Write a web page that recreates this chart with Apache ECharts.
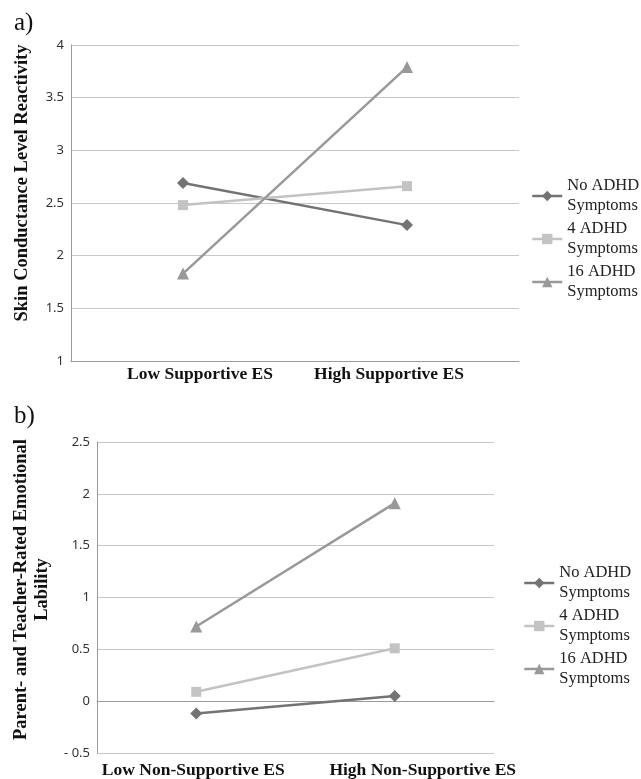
<!DOCTYPE html>
<html lang="en">
<head>
    <meta charset="UTF-8">
    <title>ADHD interaction plots</title>
    <style>
        html, body { margin: 0; padding: 0; background: #fff; }
        #chart { width: 641px; height: 779px; }
    </style>
</head>
<body>
    <div id="chart"></div>
    <script src="https://cdn.jsdelivr.net/npm/echarts@6/dist/echarts.min.js"></script>
    <script type="text/javascript">

        var seriesNames = ['No ADHD Symptoms', '4 ADHD Symptoms', '16 ADHD Symptoms'];

        // panel a
        var catsA = ['Low Supportive ES', 'High Supportive ES'];
        var noAdhdA = [2.69, 2.29];
        var fourAdhdA = [2.48, 2.66];
        var sixteenAdhdA = [1.83, 3.79];

        // panel b
        var catsB = ['Low Non-Supportive ES', 'High Non-Supportive ES'];
        var noAdhdB = [-0.12, 0.05];
        var fourAdhdB = [0.09, 0.51];
        var sixteenAdhdB = [0.72, 1.91];

        var colors = ['#737373', '#c3c3c3', '#999999'];
        var symbols = ['diamond', 'rect', 'triangle'];
        var serif = 'Liberation Serif';

        var chart = echarts.init(document.getElementById('chart'));

        function makeSeries(data, idx, axisIdx) {
            return {
                name: seriesNames[idx],
                type: 'line',
                xAxisIndex: axisIdx,
                yAxisIndex: axisIdx,
                data: data,
                symbol: symbols[idx],
                symbolSize: idx == 1 ? 10 : 12,
                showAllSymbol: true,
                color: colors[idx],
                lineStyle: { width: 2.5, color: colors[idx] },
                itemStyle: { color: colors[idx] },
                animation: false
            };
        }

        function legendBox(left, top) {
            return {
                orient: 'vertical',
                left: left,
                top: top,
                padding: 0,
                itemWidth: 30,
                itemHeight: 13,
                itemGap: -17,
                data: seriesNames,
                lineStyle: { width: 2.5 },
                formatter: function (name) {
                    var parts = name.split(' ');
                    return parts.slice(0, 2).join(' ') + '\n' + parts[2];
                },
                textStyle: {
                    fontFamily: serif,
                    fontSize: 16.5,
                    lineHeight: 20,
                    color: '#222',
                    padding: [20, 0, 0, 0]
                }
            };
        }

        function yAxis(gridIdx, min, max, name, nameGap, lift) {
            return {
                type: 'value',
                gridIndex: gridIdx,
                min: min,
                max: max,
                interval: 0.5,
                name: name,
                nameLocation: 'middle',
                nameGap: nameGap,
                nameTextStyle: {
                    fontFamily: serif,
                    fontWeight: 'bold',
                    fontSize: 18.5,
                    lineHeight: 21,
                    color: '#111',
                    padding: [0, 0, 0, lift]
                },
                axisLine: { show: true, lineStyle: { color: '#9a9a9a', width: 1 } },
                axisTick: { show: false },
                axisLabel: {
                    margin: 7,
                    fontFamily: 'Noto Sans',
                    fontSize: 13,
                    color: '#333',
                    formatter: function (v) {
                        return v < 0 ? '- ' + Math.abs(v) : String(v);
                    }
                },
                splitLine: { lineStyle: { color: '#c8c8c8', width: 1 } }
            };
        }

        // shifts: horizontal nudge of each category label (px)
        function xAxis(gridIdx, cats, shifts, margin) {
            var lblFont = { fontFamily: serif, fontWeight: 'bold', fontSize: 17.5, color: '#111' };
            var rich = {};
            shifts.forEach(function (s, i) {
                rich['s' + i] = Object.assign({
                    padding: s >= 0 ? [0, 0, 0, 2 * s] : [0, -2 * s, 0, 0]
                }, lblFont);
            });
            return {
                type: 'category',
                gridIndex: gridIdx,
                data: cats,
                boundaryGap: true,
                axisLine: { lineStyle: { color: '#9a9a9a', width: 1 } },
                axisTick: { show: false },
                axisLabel: Object.assign({
                    interval: 0,
                    margin: margin,
                    formatter: function (v, i) { return '{s' + i + '|' + v + '}'; },
                    rich: rich
                }, lblFont)
            };
        }

        var option = {
            backgroundColor: '#fff',
            animation: false,
            graphic: [
                { type: 'text', left: 14, top: 11, style: { text: 'a)', fontFamily: serif, fontSize: 25, fill: '#111' } },
                { type: 'text', left: 14, top: 404, style: { text: 'b)', fontFamily: serif, fontSize: 25, fill: '#111' } }
            ],
            legend: [legendBox(531, 166), legendBox(523, 553)],
            grid: [
                { left: 71, top: 45, right: 122, bottom: 418 },
                { left: 97, top: 442, right: 147, bottom: 22 }
            ],
            xAxis: [xAxis(0, catsA, [17, -18], 4), xAxis(1, catsB, [-3, 28], 8)],
            yAxis: [
                yAxis(0, 1, 4, 'Skin Conductance Level Reactivity', 38, 40),
                yAxis(1, -0.5, 2.5, 'Parent- and Teacher-Rated Emotional\nLability', 41, 16)
            ],
            series: [
                makeSeries(noAdhdA, 0, 0),
                makeSeries(fourAdhdA, 1, 0),
                makeSeries(sixteenAdhdA, 2, 0),
                makeSeries(noAdhdB, 0, 1),
                makeSeries(fourAdhdB, 1, 1),
                makeSeries(sixteenAdhdB, 2, 1)
            ]
        };

        chart.setOption(option);

    </script>
</body>
</html>
